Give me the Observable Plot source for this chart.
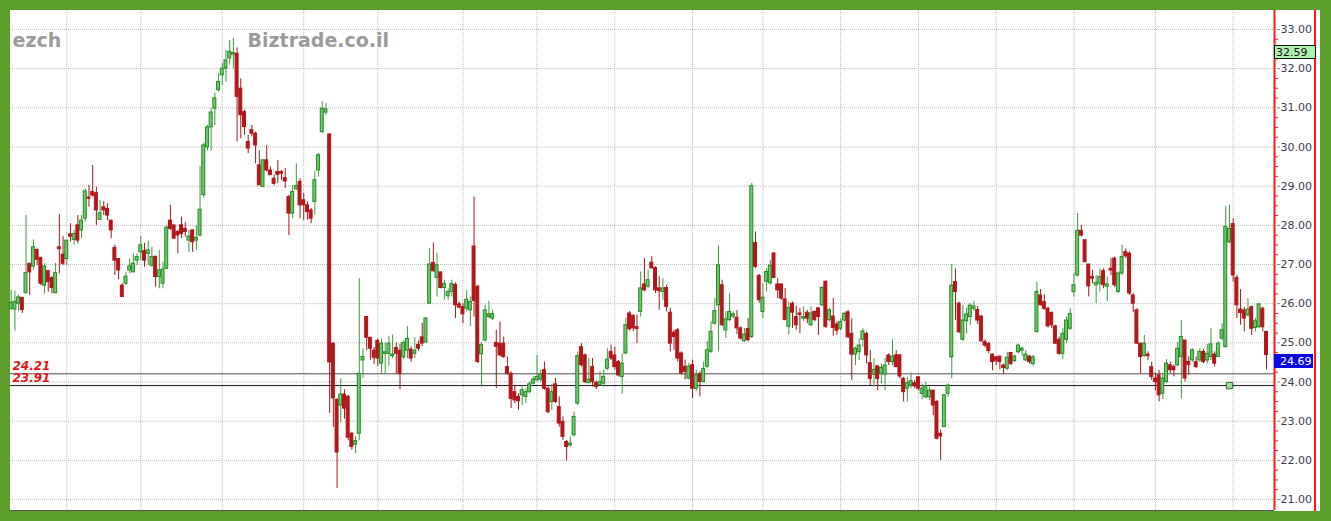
<!DOCTYPE html>
<html>
<head>
<meta charset="utf-8">
<script src="https://cdn.jsdelivr.net/npm/d3@7"></script>
<script src="https://cdn.jsdelivr.net/npm/@observablehq/plot@0.6"></script>
<style>
  html, body { margin: 0; padding: 0; background: #5c9e2a; }
  body { width: 1331px; height: 521px; overflow: hidden; position: relative; }
  #chart { position: absolute; left: 10px; top: 10px; width: 1310px; height: 501px; background: #fff; }
  #chart svg { display: block; }
</style>
</head>
<body>
<div id="chart"></div>
<script>
// Daily OHLC prices, oldest first
const opens = [
  25.87,25.85,26.0,26.15,26.27,27.02,26.95,27.37,27.17,26.46,
  26.83,26.65,26.27,27.44,27.25,27.14,27.77,27.63,28.0,27.87,
  28.17,28.71,28.85,28.82,28.14,28.46,28.42,28.12,27.42,27.14,
  26.46,26.51,26.85,26.8,27.1,27.31,27.34,27.27,26.97,27.2,
  26.68,26.51,26.89,28.12,28.0,27.83,28.0,27.91,27.61,27.87,
  27.61,27.74,28.77,29.99,30.5,30.98,31.45,31.83,32.0,32.26,
  32.36,32.38,31.49,30.89,30.13,30.43,30.34,29.53,28.98,29.66,
  29.4,29.19,29.36,29.36,29.21,28.72,28.3,28.92,29.11,28.64,
  28.51,28.38,28.6,29.4,30.38,30.88,30.32,24.98,23.54,23.4,
  23.68,23.62,22.68,22.4,22.68,24.55,25.66,25.13,24.8,25.05,
  24.47,24.72,24.72,24.66,24.87,24.8,24.63,24.8,24.83,24.72,
  24.95,25.14,25.01,26.0,27.04,26.66,26.8,26.4,26.19,26.3,
  26.48,25.98,25.91,25.87,25.83,27.46,26.43,24.71,25.06,25.66,
  25.62,25.0,24.98,24.98,24.38,24.21,23.74,23.62,23.66,23.62,
  23.74,23.96,24.04,24.06,24.3,23.83,23.49,23.94,23.36,22.98,
  22.47,22.38,22.64,23.45,24.89,24.68,23.97,24.38,23.98,23.92,
  23.96,24.34,24.77,24.68,24.51,24.13,24.73,25.75,25.69,25.4,
  25.79,26.49,26.43,27.05,26.91,26.39,26.3,26.4,25.77,25.26,
  25.32,24.73,24.39,24.09,24.43,23.83,24.2,24.0,24.39,24.77,
  25.49,25.96,26.47,25.32,25.58,25.67,25.64,25.37,25.04,25.35,
  25.15,27.55,26.71,25.79,26.56,26.52,27.28,26.49,26.49,26.11,
  25.41,26.0,25.66,25.75,25.62,25.77,25.45,25.79,25.88,25.96,
  26.56,25.58,25.67,25.47,25.36,25.57,25.78,25.23,24.7,24.76,
  25.08,25.23,24.48,24.19,24.4,24.21,24.19,24.68,24.51,24.68,
  24.68,24.08,23.83,23.91,23.97,24.12,23.7,23.61,23.61,23.78,
  23.49,22.68,22.85,23.7,24.63,26.55,26.0,25.08,25.55,25.66,
  25.87,25.84,25.67,25.02,24.97,24.7,24.63,24.65,24.42,24.34,
  24.74,24.53,24.76,24.8,24.55,24.65,24.46,25.28,26.21,26.04,
  25.87,25.76,25.42,25.08,24.72,25.08,25.36,26.3,26.72,27.86,
  27.62,27.0,26.68,26.47,26.51,26.83,26.43,26.89,27.15,26.3,
  26.77,27.32,27.28,26.21,25.83,24.98,24.66,24.7,24.38,24.09,
  24.17,23.7,24.0,24.43,24.39,24.43,24.64,25.06,24.51,24.55,
  24.51,24.55,24.77,24.55,24.64,24.7,24.64,25.11,24.89,27.57,
  28.03,26.66,25.85,25.83,25.7,25.91,25.38,25.4,25.87,25.28
];
const highs = [
  26.34,26.32,26.22,26.15,28.25,27.02,27.63,27.4,27.17,27.02,
  26.85,26.69,27.03,28.28,27.71,27.61,28.04,27.87,28.25,28.25,
  28.93,29.02,29.53,28.97,28.63,28.61,28.55,28.12,27.49,27.14,
  26.51,26.8,27.14,27.27,27.27,27.71,27.54,27.6,27.44,27.2,
  27.36,27.06,28.0,28.51,28.0,27.87,28.21,28.08,27.87,27.87,
  28.0,29.5,30.1,30.55,30.98,31.37,31.87,32.13,32.47,32.72,
  32.77,32.53,31.74,30.94,30.3,30.55,30.38,29.91,29.66,30.04,
  29.49,29.28,29.66,29.4,29.45,28.77,29.02,29.57,29.19,28.81,
  28.6,28.43,29.38,29.83,31.15,31.11,30.34,25.0,23.58,24.08,
  23.8,23.66,22.72,22.6,26.64,24.85,25.66,25.13,24.88,25.1,
  25.1,25.0,25.17,25.2,25.0,24.97,25.05,25.42,24.9,25.13,
  25.05,25.5,25.65,27.4,27.55,27.29,26.8,26.6,26.38,26.6,
  26.53,26.04,26.0,26.34,26.17,28.72,26.47,25.0,25.96,26.06,
  25.83,25.32,25.53,25.15,24.64,24.26,23.92,23.7,23.87,23.83,
  24.0,24.13,24.68,24.3,24.51,23.87,23.94,24.09,23.62,23.11,
  22.51,22.6,23.23,24.77,24.98,24.72,24.6,24.6,24.02,24.26,
  24.3,24.85,24.94,24.89,24.55,24.72,25.63,25.8,25.71,25.71,
  26.81,27.15,26.86,27.2,26.94,26.69,26.64,26.47,25.88,25.32,
  25.37,24.77,24.56,24.47,24.56,24.3,24.26,24.51,25.03,25.54,
  26.13,27.48,26.6,25.79,26.26,25.79,25.83,25.41,25.37,25.62,
  29.07,27.83,26.75,26.51,26.9,27.11,27.3,26.64,26.51,26.39,
  26.04,26.04,25.94,25.88,25.92,25.83,25.92,25.81,25.9,26.43,
  26.58,25.88,26.13,25.53,25.62,25.78,25.83,25.61,24.89,25.1,
  25.36,25.27,24.8,24.59,24.42,24.46,24.61,24.72,25.08,24.8,
  24.7,24.12,24.12,24.23,24.04,24.14,23.95,24.0,23.87,23.78,
  23.53,22.77,23.68,23.95,27.0,26.89,26.04,25.96,25.89,26.01,
  26.06,25.93,25.7,25.08,25.02,24.72,24.65,24.65,24.46,24.76,
  24.76,24.68,24.97,24.89,24.8,24.68,24.68,26.55,26.36,26.23,
  25.91,25.79,25.45,25.15,25.36,25.66,25.87,26.77,28.3,28.0,
  27.62,27.0,26.85,26.72,26.89,26.89,26.68,27.15,27.19,26.81,
  27.49,27.4,27.32,26.26,25.87,24.98,25.19,24.77,24.51,24.23,
  24.3,24.21,24.57,24.51,24.43,25.0,25.57,25.06,24.64,24.85,
  24.64,24.85,24.83,24.96,25.36,24.77,25.02,25.49,28.48,28.51,
  28.17,26.72,26.36,25.91,26.13,25.94,25.62,26.0,25.91,25.28
];
const lows = [
  25.83,25.3,25.8,25.75,26.25,26.21,26.85,26.97,26.46,26.25,
  26.29,26.25,26.25,26.76,26.97,26.97,27.57,27.49,27.53,27.66,
  28.08,28.46,28.72,28.0,28.12,28.25,28.12,27.66,26.72,26.61,
  26.17,26.46,26.76,26.8,26.97,27.1,26.93,26.97,26.93,26.42,
  26.38,26.38,26.89,27.87,27.66,27.27,27.66,27.7,27.31,27.31,
  27.36,27.7,28.7,29.9,29.9,30.55,31.4,31.57,31.66,32.09,
  32.0,30.13,30.21,30.3,29.83,30.26,29.57,29.02,28.98,29.36,
  29.28,29.02,29.06,29.15,28.94,27.74,28.17,28.89,28.17,28.13,
  28.13,28.04,28.26,29.23,30.34,30.81,23.2,22.84,21.28,22.96,
  23.05,22.5,22.26,22.17,22.5,24.09,24.8,24.55,24.45,24.4,
  24.2,24.2,24.4,24.6,24.2,23.8,24.57,24.6,24.5,24.6,
  24.78,24.9,25.0,26.0,26.8,26.17,26.38,26.09,26.09,26.17,
  25.62,25.87,25.49,25.79,25.42,25.66,24.47,23.87,25.02,25.62,
  25.57,23.83,24.64,24.6,24.17,23.32,23.45,23.28,23.4,23.45,
  23.7,23.92,24.02,24.0,23.79,23.19,23.28,23.45,22.85,22.51,
  21.98,22.34,22.6,23.4,24.38,23.96,23.96,23.87,23.81,23.89,
  23.87,24.3,24.55,24.3,24.13,23.69,24.7,25.3,25.28,24.98,
  25.66,26.3,26.39,26.9,26.26,25.83,26.09,25.79,24.77,24.81,
  24.51,24.17,24.05,24.05,23.58,23.75,23.62,23.98,24.35,24.73,
  25.45,24.77,25.41,25.11,25.54,25.62,25.21,25.07,25.02,25.02,
  25.11,26.9,26.01,25.62,26.3,26.47,26.64,26.13,26.09,25.58,
  25.2,25.37,25.32,25.24,25.54,25.49,25.41,25.54,25.19,25.92,
  25.37,25.54,25.17,25.19,25.31,25.53,25.12,24.04,24.42,24.55,
  24.89,24.46,23.91,23.87,23.78,23.95,23.78,24.42,24.42,24.38,
  24.08,23.49,23.49,23.83,23.83,23.78,23.55,23.57,23.53,23.14,
  22.52,22.0,22.85,23.61,24.08,25.57,25.24,25.04,25.23,25.44,
  25.8,25.47,25.02,24.87,24.72,24.29,24.42,24.31,24.2,24.29,
  24.42,24.51,24.72,24.66,24.53,24.46,24.4,25.24,25.94,25.83,
  25.38,25.36,24.96,24.68,24.57,24.98,25.32,26.17,26.68,27.7,
  27.04,26.17,26.51,26.0,26.3,26.38,26.06,26.72,26.41,26.26,
  26.72,27.15,26.21,25.77,24.96,24.21,24.64,24.55,24.04,23.77,
  23.49,23.55,23.96,24.21,24.13,24.38,23.57,24.0,24.17,24.51,
  24.34,24.51,24.47,24.47,24.55,24.38,24.62,25.06,24.87,27.53,
  26.55,25.62,25.45,25.28,25.66,25.19,25.28,25.36,25.28,24.31
];
const closes = [
  26.02,26.05,26.16,25.84,26.78,26.8,27.44,27.12,26.51,26.95,
  26.55,26.4,26.78,27.39,27.02,27.61,27.71,27.78,27.61,28.12,
  28.87,28.68,28.76,28.38,28.31,28.38,28.25,27.87,27.1,26.85,
  26.17,26.69,26.95,27.02,27.19,27.49,27.1,27.36,27.19,26.68,
  26.85,26.87,27.94,27.91,27.66,27.74,27.78,27.83,27.71,27.57,
  27.68,28.4,30.04,30.5,30.88,31.24,31.66,32.0,32.21,32.43,
  32.4,31.28,30.81,30.51,29.96,30.34,30.04,29.02,29.66,29.4,
  29.28,29.06,29.29,29.32,29.12,28.3,28.85,29.0,28.51,28.51,
  28.34,28.17,29.15,29.79,30.98,30.96,24.5,23.58,22.2,23.68,
  23.32,22.58,22.34,22.49,24.21,24.64,25.13,24.85,24.62,24.6,
  24.98,24.76,24.98,24.7,24.72,24.2,25.0,25.1,24.6,24.8,
  24.85,24.98,25.62,27.0,26.83,26.98,26.4,26.5,26.3,26.5,
  25.96,25.9,25.73,26.1,26.04,26.07,24.51,24.94,25.83,25.73,
  25.73,24.9,24.68,24.64,24.21,23.57,23.53,23.51,23.79,23.74,
  23.94,24.06,24.13,24.19,23.83,23.23,23.74,23.49,22.94,22.6,
  22.34,22.43,23.11,24.66,24.43,24.0,24.06,24.0,23.87,24.0,
  24.13,24.57,24.6,24.38,24.17,24.47,25.45,25.35,25.37,25.35,
  26.39,26.34,26.6,26.9,26.34,26.32,26.39,25.92,24.98,25.15,
  24.6,24.22,24.26,24.39,23.83,24.17,24.0,24.33,24.81,25.28,
  25.81,26.98,25.45,25.6,25.79,25.73,25.37,25.11,25.21,25.07,
  29.0,26.94,26.09,26.15,26.81,26.97,26.66,26.34,26.13,25.58,
  25.89,25.77,25.45,25.71,25.66,25.62,25.75,25.58,25.66,26.4,
  25.41,25.83,25.38,25.31,25.53,25.74,25.14,24.7,24.85,24.93,
  25.29,24.68,24.08,24.31,24.08,24.36,24.42,24.51,24.65,24.38,
  24.14,23.74,23.97,24.02,23.89,23.83,23.83,23.89,23.78,23.4,
  22.55,22.61,23.66,23.91,26.46,26.3,25.27,25.57,25.72,25.95,
  25.93,25.57,25.04,24.93,24.79,24.51,24.53,24.51,24.36,24.62,
  24.46,24.65,24.93,24.85,24.7,24.51,24.63,26.3,25.96,25.87,
  25.42,25.45,24.98,24.72,25.23,25.57,25.74,26.47,27.86,27.74,
  27.06,26.44,26.64,26.53,26.68,26.47,26.49,26.85,26.47,26.77,
  27.19,27.21,26.26,26.0,24.98,24.64,24.98,24.66,24.13,24.0,
  23.66,24.09,24.47,24.3,24.3,24.85,25.15,24.09,24.43,24.81,
  24.38,24.77,24.51,24.72,24.96,24.47,24.98,25.32,27.96,27.91,
  26.72,25.96,25.76,25.62,25.85,25.36,25.55,25.98,25.4,24.69
];

// Session index of the first trading day of each month
const monthStarts = [15, 35, 57, 79, 99, 122, 142, 163, 184, 203, 224, 245, 266, 287, 309, 330];
// Horizontal support levels
const levels = [24.21, 23.91];
// Alert marker placed on the lower level
const alertIndex = 329;
const alertPrice = 23.91;
// Price flag shown in the axis strip
const quotePrice = 32.59;
// Price axis ticks
const priceTicks = d3.range(21, 34);
const minorTicks = d3.range(21, 33.01, 0.25).filter(v => Math.abs(v - Math.round(v)) > 1e-6);

const candles = opens.map((o, i) => ({
  i, open: o, high: highs[i], low: lows[i], close: closes[i], up: closes[i] >= o
}));
const lastClose = closes[closes.length - 1];

const W = 1310, H = 501;
const xDomain = [-0.19, 341.16];
const yDomain = [20.72, 33.485];
const FONT = "'DejaVu Sans', Verdana, sans-serif";

const GREEN_FILL = "#72c672", GREEN_LINE = "#1f8a1f", GREEN_WICK = "#3c9c3c";
const RED_FILL = "#b3161b", RED_LINE = "#b3161b", RED_WICK = "#9a1b1b";

// Axis strip: outer border line and the two price flags
function axisStrip(index, scales, values, dims) {
  const {width, height, marginRight} = dims;
  const x0 = width - marginRight;
  const y = scales.y;
  const g = d3.create("svg:g")
    .attr("font-family", FONT)
    .attr("font-size", 11)
    .attr("text-anchor", "start");
  g.append("line")
    .attr("x1", width - 5).attr("x2", width - 5)
    .attr("y1", 0).attr("y2", height)
    .attr("stroke", "#ff1a1a").attr("stroke-width", 2);
  const yq = Math.round(y(quotePrice));
  g.append("rect")
    .attr("x", x0 + 0.5).attr("y", yq + 0.5)
    .attr("width", 41).attr("height", 13)
    .attr("fill", "#aef2ae").attr("stroke", "#111");
  g.append("text")
    .attr("x", x0 + 2).attr("y", yq + 11)
    .attr("text-anchor", "start")
    .attr("fill", "#111").text(quotePrice.toFixed(2));
  const yl = Math.round(y(lastClose));
  g.append("rect")
    .attr("x", x0).attr("y", yl)
    .attr("width", 39).attr("height", 14)
    .attr("fill", "#0a0ae6");
  g.append("text")
    .attr("x", x0 + 6).attr("y", yl + 11)
    .attr("text-anchor", "start")
    .attr("fill", "#fff").text(lastClose.toFixed(2));
  return g.node();
}

const chart = Plot.plot({
  width: W,
  height: H,
  marginLeft: 0,
  marginRight: 46,
  marginTop: 0,
  marginBottom: 1,
  x: {domain: xDomain, axis: null},
  y: {domain: yDomain, axis: null},
  style: {background: "#fff", fontFamily: FONT, overflow: "visible"},
  marks: [
    // dotted grid
    Plot.ruleY(priceTicks, {stroke: "#bcbcbc", strokeDasharray: "1,1"}),
    Plot.ruleX(monthStarts, {stroke: "#bcbcbc", strokeDasharray: "1,1"}),
    // watermarks
    Plot.text(["ezch"], {text: d => d, frameAnchor: "top-left", dx: 2, dy: 36, lineAnchor: "bottom",
      textAnchor: "start", fontSize: 19, fontWeight: "bold", fill: "#9a9a9a"}),
    Plot.text(["Biztrade.co.il"], {text: d => d, frameAnchor: "top-left", dx: 237, dy: 36, lineAnchor: "bottom",
      textAnchor: "start", fontSize: 19, fontWeight: "bold", fill: "#9a9a9a"}),
    // support levels
    Plot.ruleY(levels, {stroke: (d, i) => i === 0 ? "#4a4a4a" : "#1a1a1a", strokeWidth: 1}),
    // candle wicks and bodies
    Plot.ruleX(candles, {x: "i", y1: "low", y2: "high", stroke: d => d.up ? GREEN_WICK : RED_WICK, strokeWidth: 1}),
    Plot.rect(candles, {
      x1: d => d.i - 0.4, x2: d => d.i + 0.4, y1: "open", y2: "close",
      fill: d => d.up ? GREEN_FILL : RED_FILL,
      stroke: d => d.up ? GREEN_LINE : RED_LINE, strokeWidth: 1
    }),
    // level labels
    Plot.text(levels, {y: d => d, text: d => d.toFixed(2), frameAnchor: "left", dx: 2, dy: -4,
      lineAnchor: "bottom", textAnchor: "start", fill: "#e3161b", fontSize: 12,
      fontWeight: "bold", fontStyle: "italic"}),
    // alert marker
    Plot.dot([{i: alertIndex, p: alertPrice}], {x: "i", y: "p", symbol: "square", r: 3.6,
      fill: "#9fdf9f", stroke: "#2a6a2a", strokeWidth: 1}),
    // bottom edge and axis border
    Plot.ruleY([yDomain[0]], {stroke: "#555"}),
    Plot.ruleX([xDomain[1]], {stroke: "#ff1a1a", strokeWidth: 2}),
    // right price axis
    Plot.axisY(minorTicks, {anchor: "right", tickSize: 3, tickFormat: () => "", color: "#ff1a1a"}),
    Plot.axisY(priceTicks, {anchor: "right", tickSize: 3, dx: 2, tickFormat: () => "", color: "#8a8a8a"}),
    Plot.axisY(priceTicks, {anchor: "right", tickSize: 0, tickPadding: 6, tickFormat: d => d.toFixed(2),
      fontSize: 11, color: "#3a3a50"}),
    axisStrip
  ]
});

document.getElementById("chart").appendChild(chart);
</script>
</body>
</html>
